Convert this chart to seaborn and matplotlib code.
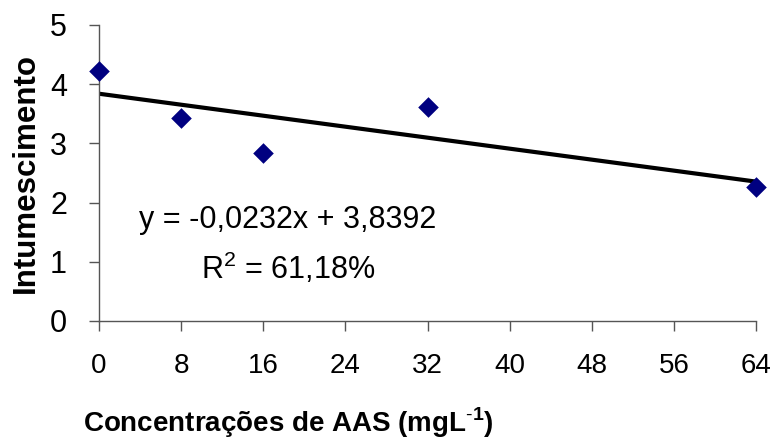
import numpy as np
import pandas as pd
import matplotlib
matplotlib.use("Agg")
import matplotlib.pyplot as plt
from matplotlib import font_manager
import seaborn as sns

# Data
conc = [0, 8, 16, 32, 64]
intumescimento = [4.22, 3.43, 2.83, 3.62, 2.27]
slope = -0.0232
intercept = 3.8392
fit_x = [0, 64]
x_ticks = [0, 8, 16, 24, 32, 40, 48, 56, 64]
y_ticks = [0, 1, 2, 3, 4, 5]
eq_text = "y = -0,0232x + 3,8392"
r2_text = "R$^2$ = 61,18%"

sns.set_style("white")
plt.rcParams['font.family'] = ['Liberation Sans', 'DejaVu Sans']
plt.rcParams['mathtext.fontset'] = 'custom'
plt.rcParams['mathtext.rm'] = 'Liberation Sans'
plt.rcParams['mathtext.bf'] = 'Liberation Sans:bold'
plt.rcParams['text.color'] = 'black'
plt.rcParams['axes.labelcolor'] = 'black'
plt.rcParams['xtick.color'] = 'black'
plt.rcParams['ytick.color'] = 'black'

names = {f.name for f in font_manager.fontManager.ttflist}
if 'Liberation Sans Narrow' in names:
    narrow = ['Liberation Sans Narrow', 'Liberation Sans']
    xtick_size, xlab_size = 21, 22
else:
    narrow = ['Liberation Sans', 'DejaVu Sans']
    xtick_size, xlab_size = 20, 20

fig = plt.figure(figsize=(7.75, 4.41), dpi=100)
ax = fig.add_axes([99/775, 1-321/441, 657/775, 296/441])

df = pd.DataFrame({"x": conc, "y": intumescimento})
fit_df = pd.DataFrame({"x": fit_x, "y": [slope*v + intercept for v in fit_x]})

sns.lineplot(data=fit_df, x="x", y="y", ax=ax, color="black", linewidth=3.0, zorder=2)
sns.scatterplot(data=df, x="x", y="y", ax=ax, marker="D", s=110, color="#000080",
                edgecolor="#000080", linewidth=0, zorder=3, clip_on=False)

ax.set_xlim(0, 64)
ax.set_ylim(0, 5)
ax.set_xticks(x_ticks)
ax.set_yticks(y_ticks)
ax.set_xticklabels([str(t) for t in x_ticks], fontsize=xtick_size, family=narrow)
ax.set_yticklabels([str(t) for t in y_ticks], fontsize=22)

for s in ["top", "right"]:
    ax.spines[s].set_visible(False)
for s in ["left", "bottom"]:
    ax.spines[s].set_color("#555555")
    ax.spines[s].set_linewidth(1.0)

ax.tick_params(axis="x", direction="out", length=7, width=1, color="#555555",
               labelcolor="black", pad=16, bottom=True)
ax.tick_params(axis="y", direction="out", length=7, width=1, color="#555555",
               labelcolor="black", pad=16, left=True)

ax.set_xlabel("Concentrações de AAS (mgL$^{\\mathbf{\\text{-}1}}$)", fontsize=xlab_size,
              fontweight="bold", family=narrow, color="black")
ax.xaxis.set_label_coords((288-99)/657, (321-406)/296)
ax.set_ylabel("Intumescimento", fontsize=22.5, fontweight="bold", color="black")
ax.yaxis.set_label_coords((41-99)/657, 0.5)

ax.text((288-99)/657, (321-220)/296, eq_text, transform=ax.transAxes, fontsize=22,
        ha="center", va="center", color="black")
ax.text((288-99)/657, (321-268)/296, r2_text, transform=ax.transAxes, fontsize=22,
        ha="center", va="center", color="black")

fig.savefig("out.png", dpi=100)
